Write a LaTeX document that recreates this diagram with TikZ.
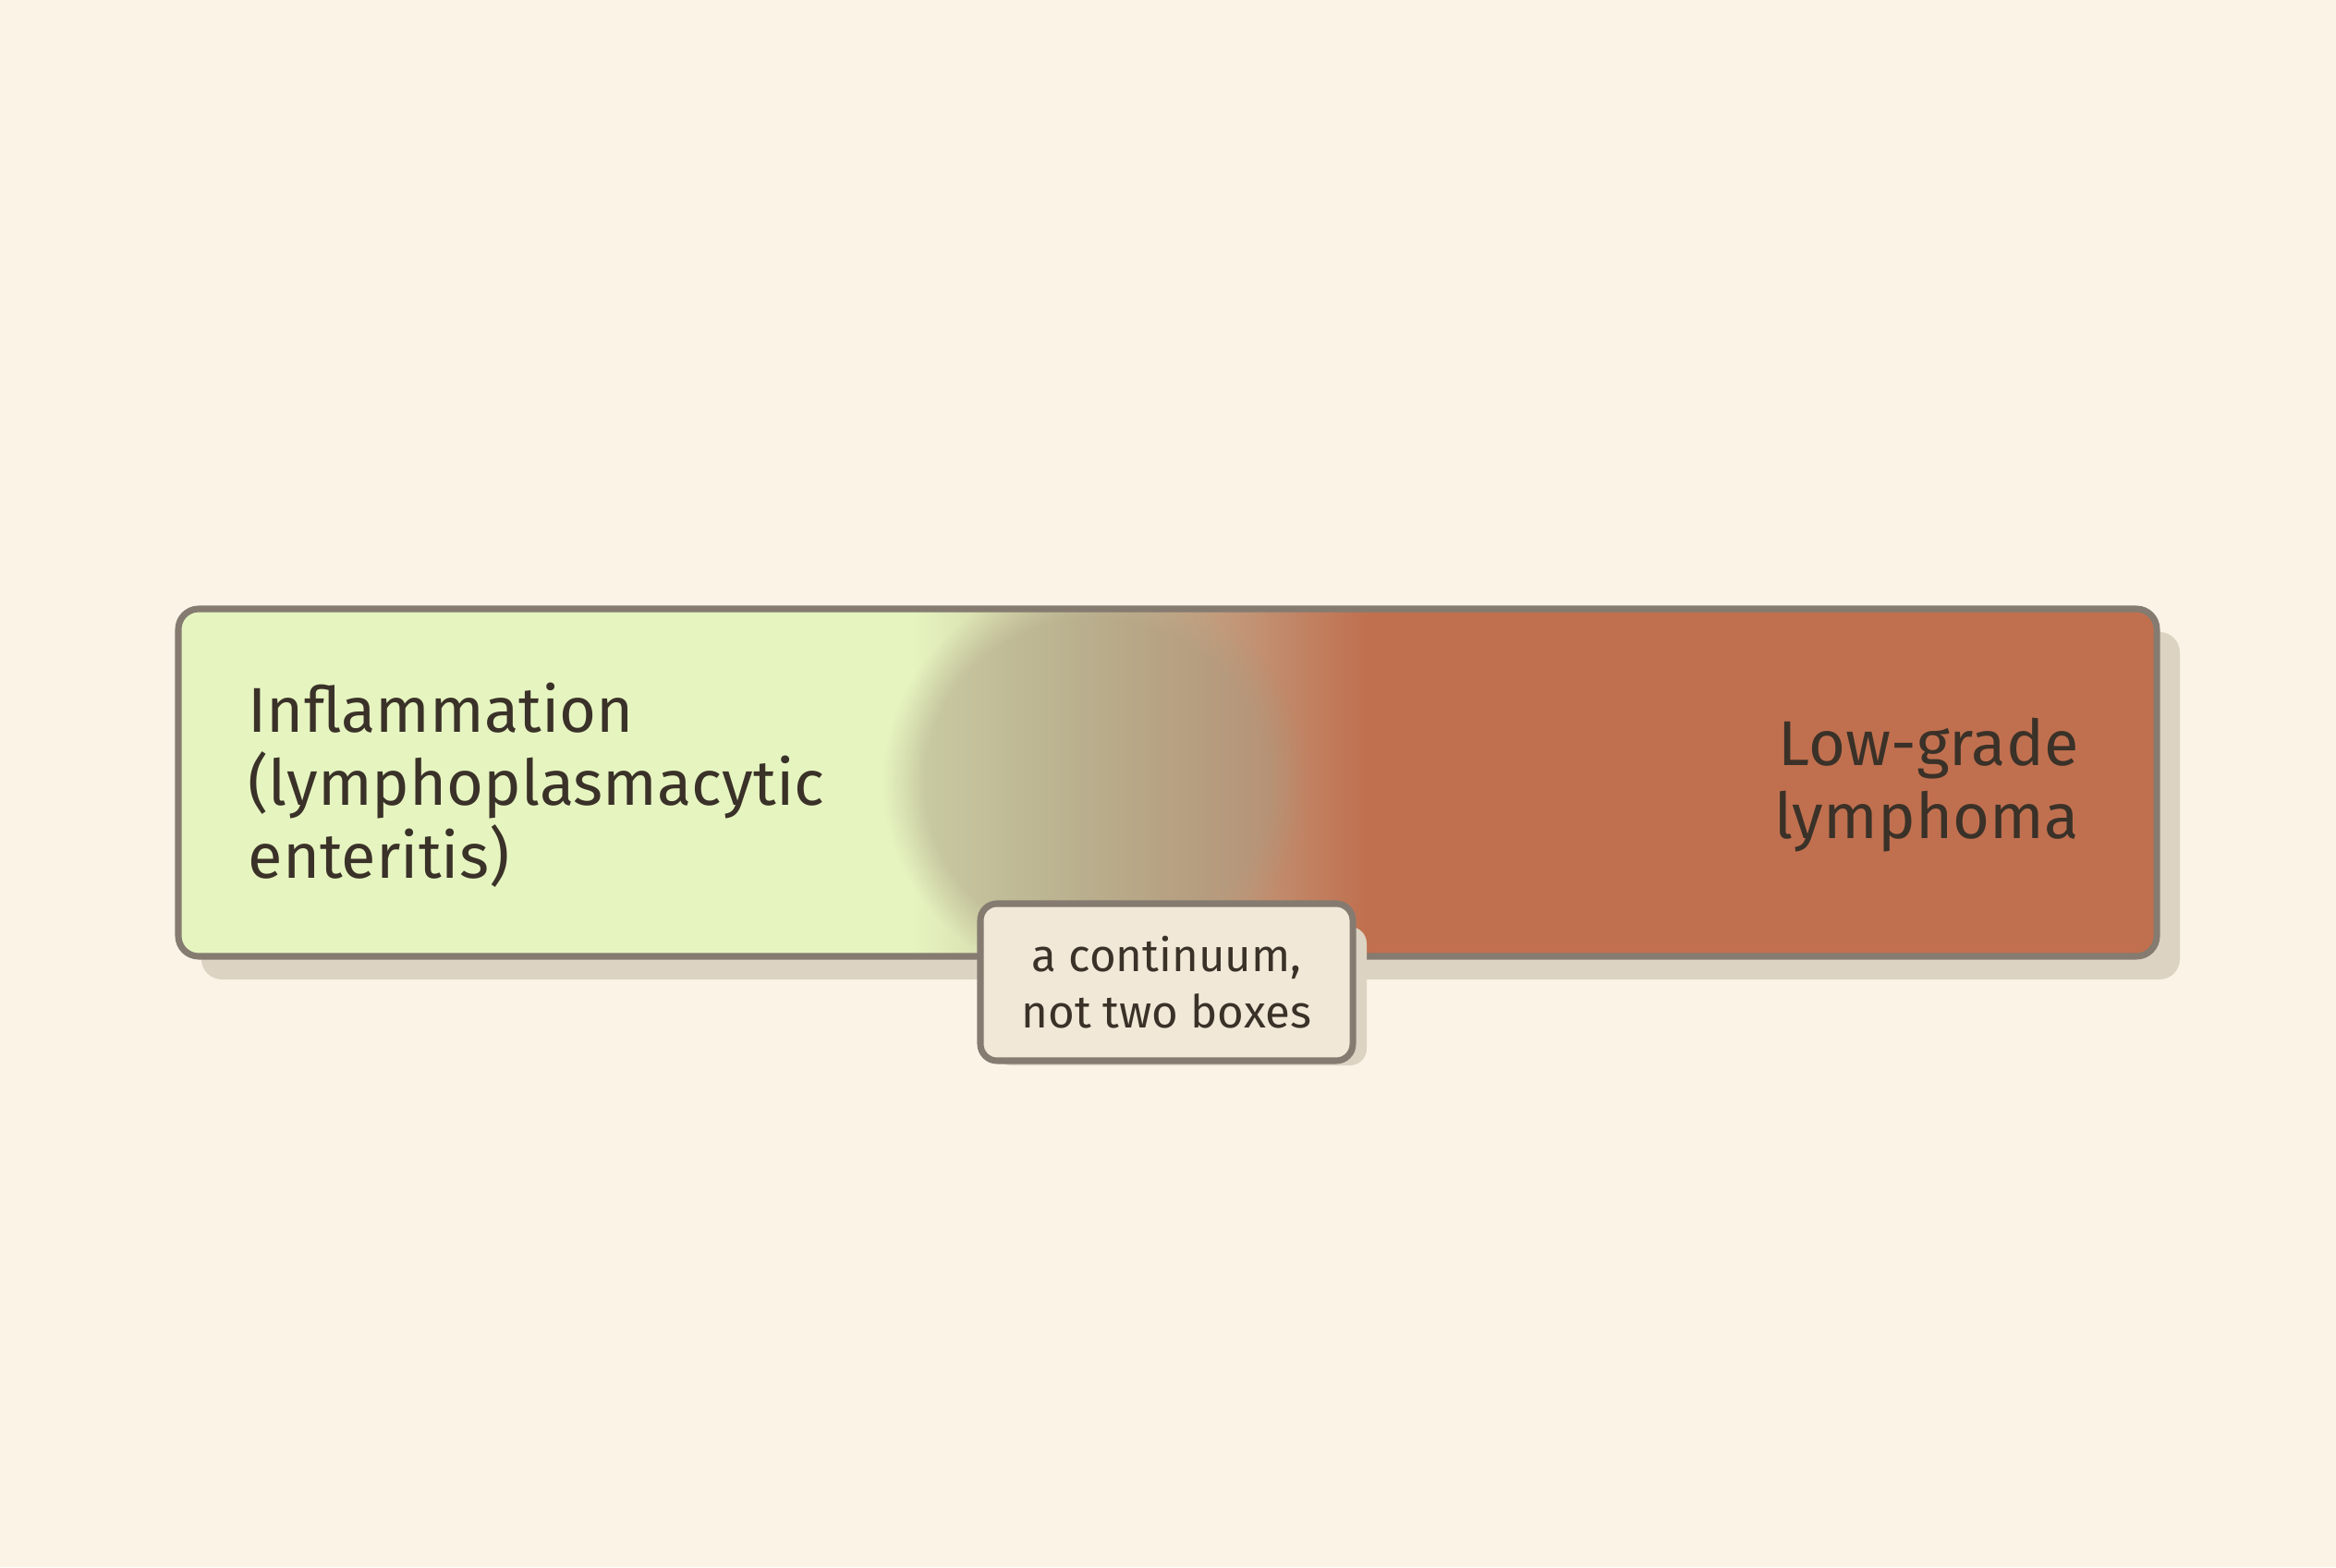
\documentclass[tikz,border=0pt]{standalone}
\usepackage{fontspec}
\setmainfont{Fira Sans}
\usetikzlibrary{fadings}
\definecolor{bg}{HTML}{FAF3E6}
\definecolor{edge}{HTML}{857B70}
\definecolor{shad}{HTML}{DCD3C3}
\definecolor{txt}{HTML}{3A3128}
\definecolor{lbl}{HTML}{F1E8D8}
\definecolor{blob}{HTML}{A89A80}
\pgfdeclarehorizontalshading{contin}{100bp}{%
 rgb(0bp)=(0.902,0.961,0.753);
 rgb(43.5bp)=(0.902,0.961,0.753);
 rgb(48bp)=(0.78,0.75,0.60);
 rgb(52bp)=(0.76,0.58,0.46);
 rgb(55bp)=(0.753,0.44,0.31);
 rgb(100bp)=(0.753,0.44,0.31)}
\tikzset{frame/.style={draw=edge,line width=2pt,rounded corners=0.22cm},
 txtstyle/.style={text=txt,font=\fontsize{19.5}{22.5}\selectfont,inner sep=0pt}}
\begin{document}
\begin{tikzpicture}
\fill[bg] (0,0) rectangle (25.28,16.96);
\useasboundingbox (0,0) rectangle (25.28,16.96);
\fill[shad,rounded corners=0.22cm] (2.18,6.36) rectangle (23.59,10.12);
\begin{scope}
\clip[rounded corners=0.22cm] (1.93,6.61) rectangle (23.34,10.37);
\shade[shading=contin] (1.93,6.61) rectangle (23.34,10.37);
\fill[blob,opacity=0.45,path fading=circle with fuzzy edge 20 percent] (11.85,8.5) ellipse (2.3cm and 2.2cm);
\end{scope}
\node[frame,minimum width=21.41cm,minimum height=3.76cm] (bar) at (12.635,8.49) {};
\node[txtstyle,anchor=west,align=left] (left) at (2.68,8.46) {Inflammation\\(lymphoplasmacytic\\enteritis)};
\node[txtstyle,anchor=east,align=right] (right) at (22.50,8.46) {Low-grade\\lymphoma};
\fill[shad,rounded corners=0.18cm] (10.76,5.43) rectangle (14.79,6.93);
\node[frame,rounded corners=0.18cm,fill=lbl,minimum width=4.03cm,minimum height=1.70cm,
 text=txt,font=\fontsize{14}{17.5}\selectfont,align=center] (lab) at (12.625,6.33) {a continuum,\\not two boxes};
\end{tikzpicture}
\end{document}
